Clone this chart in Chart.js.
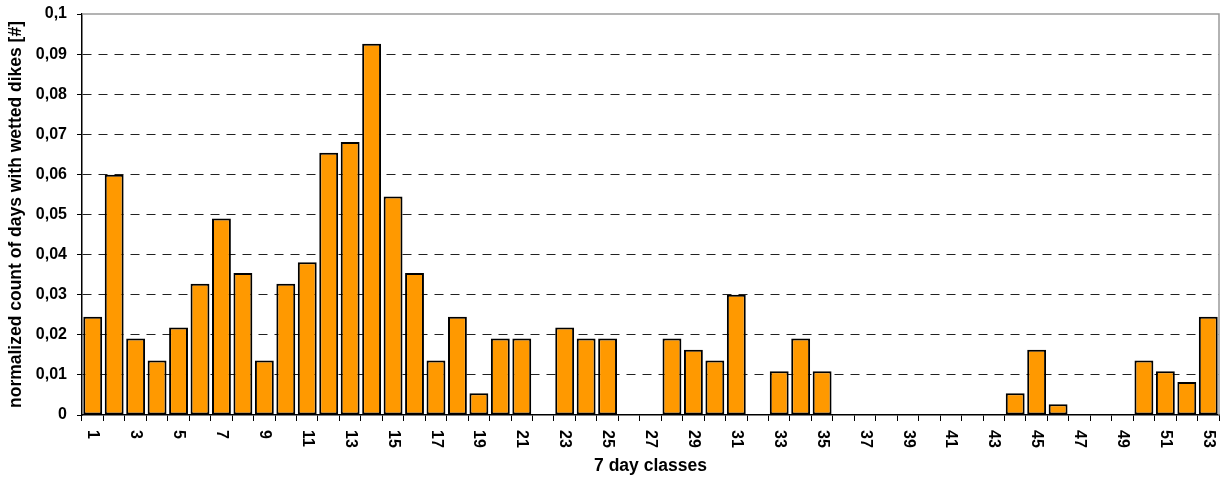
<!DOCTYPE html>
<html>
<head>
<meta charset="utf-8">
<script src="https://cdn.jsdelivr.net/npm/chart.js@4/dist/chart.umd.min.js"></script>
<style>
  body { margin: 0; background: #fff; }
  #wrap { width: 1220px; height: 478px; position: relative; }
</style>
</head>
<body>
<div id="wrap"><canvas id="myChart"></canvas></div>
<script>
// 7 day classes 1..53
var classes = [];
for (var i = 1; i <= 53; i++) classes.push(String(i));

// normalized count of days with wetted dikes
var values = [
  0.0245, 0.0599, 0.0191, 0.0136, 0.0218, 0.0327, 0.0490, 0.0354, 0.0136, 0.0327,
  0.0381, 0.0654, 0.0681, 0.0926, 0.0545, 0.0354, 0.0136, 0.0245, 0.0054, 0.0191,
  0.0191, 0, 0.0218, 0.0191, 0.0191, 0, 0, 0.0191, 0.0163, 0.0136,
  0.0300, 0, 0.0109, 0.0191, 0.0109, 0, 0, 0, 0, 0,
  0, 0, 0, 0.0054, 0.0163, 0.0027, 0, 0, 0, 0.0136,
  0.0109, 0.0082, 0.0245
];

var yTicks = [0, 0.01, 0.02, 0.03, 0.04, 0.05, 0.06, 0.07, 0.08, 0.09, 0.1];

var fontFam = "'Liberation Sans', Arial, sans-serif";

// x labels are drawn turned clockwise (reading top to bottom), only odd classes
var xLabelPlugin = {
  id: "xLabels",
  afterDraw: function (chart) {
    var ctx = chart.ctx;
    var xs = chart.scales.x;
    var area = chart.chartArea;
    ctx.save();
    ctx.font = "bold 16px " + fontFam;
    ctx.fillStyle = "#000";
    ctx.textAlign = "left";
    ctx.textBaseline = "middle";
    classes.forEach(function (lbl, idx) {
      if (idx % 2 !== 0) return;
      var x = xs.getPixelForValue(idx);
      ctx.save();
      ctx.translate(x, area.bottom + 15);
      ctx.rotate(Math.PI / 2);
      ctx.fillText(lbl, 0, 0);
      ctx.restore();
    });
    // grey frame top and right
    ctx.strokeStyle = "#9a9a9a";
    ctx.lineWidth = 1.5;
    ctx.beginPath();
    ctx.moveTo(area.left, area.top);
    ctx.lineTo(area.right, area.top);
    ctx.lineTo(area.right, area.bottom);
    ctx.stroke();
    ctx.restore();
  }
};

new Chart("myChart", {
  type: "bar",
  data: {
    labels: classes,
    datasets: [{
      data: values,
      backgroundColor: "#FF9900",
      borderColor: "#000",
      borderWidth: 2,
      borderSkipped: false,
      barPercentage: 0.88,
      categoryPercentage: 1
    }]
  },
  options: {
    responsive: true,
    maintainAspectRatio: false,
    animation: false,
    layout: { padding: { top: 14, right: 1, left: 0, bottom: 0 } },
    plugins: {
      legend: { display: false },
      tooltip: { enabled: false }
    },
    scales: {
      x: {
        offset: true,
        grid: {
          offset: true,
          drawOnChartArea: false,
          drawTicks: true,
          tickLength: 6,
          color: "#000",
          lineWidth: 1
        },
        border: { color: "#000", width: 1.5 },
        ticks: { display: false, autoSkip: false },
        title: {
          display: true,
          text: "7 day classes",
          color: "#000",
          font: { family: fontFam, size: 17.5, weight: "bold" },
          padding: { top: 0, bottom: 1.5 }
        },
        afterFit: function (scale) { scale.height = 63; }
      },
      y: {
        min: 0,
        max: 0.1,
        afterBuildTicks: function (scale) {
          scale.ticks = yTicks.map(function (v) { return { value: v }; });
        },
        grid: {
          color: function (c) {
            if (!c.tick || c.tick.value <= 0 || c.tick.value >= 0.1) return "rgba(0,0,0,0)";
            return "#222";
          },
          tickColor: "#000",
          tickLength: 5,
          lineWidth: 1
        },
        border: { color: "#000", width: 1.5, dash: [9, 7] },
        ticks: {
          color: "#000",
          padding: 10,
          font: { family: fontFam, size: 16, weight: "bold" },
          callback: function (v) {
            if (v === 0) return "0";
            var s = Number(v).toFixed(2).replace(/0+$/, "");
            return s.replace(".", ",");
          }
        },
        title: {
          display: true,
          text: "normalized count of days with wetted dikes [#]",
          color: "#000",
          font: { family: fontFam, size: 17.5, weight: "bold" },
          padding: { top: 5.5, bottom: 0 }
        },
        afterFit: function (scale) {
          scale.width = 82;
          scale.paddingTop = 0;
          scale.paddingBottom = 0;
        }
      }
    }
  },
  plugins: [xLabelPlugin]
});
</script>
</body>
</html>
